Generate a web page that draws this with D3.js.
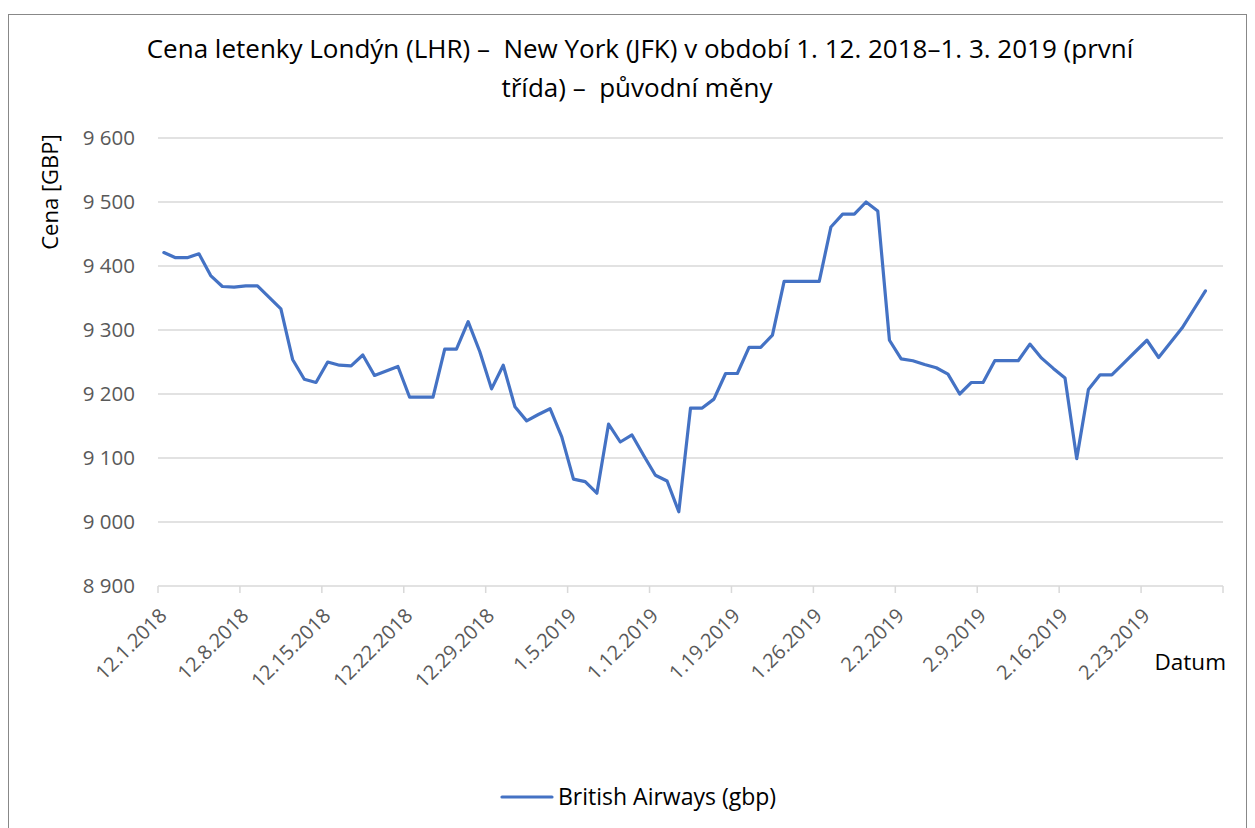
<!DOCTYPE html>
<html>
<head>
<meta charset="utf-8">
<script src="https://cdn.jsdelivr.net/npm/d3@7"></script>
<style>
  body { margin: 0; background: #fff; }
  text { font-family: "Open Sans", sans-serif; white-space: pre; }
</style>
</head>
<body>
<svg id="chart" width="1255" height="828"></svg>
<script>
// Daily prices, 1. 12. 2018 - 28. 2. 2019
let startDate = new Date(2018, 11, 1);
let prices = [9421, 9413, 9413, 9419, 9385, 9368, 9367, 9369, 9369, 9351,
	9333, 9254, 9223, 9218, 9250, 9245, 9244, 9261, 9229, 9236,
	9243, 9195, 9195, 9195, 9270, 9270, 9313, 9266, 9208, 9245,
	9180, 9158, 9168, 9177, 9133, 9067, 9063, 9045, 9153, 9125,
	9136, 9104, 9073, 9064, 9016, 9178, 9178, 9192, 9232, 9232,
	9273, 9273, 9292, 9376, 9376, 9376, 9376, 9461, 9481, 9481,
	9500, 9486, 9284, 9255, 9252, 9246, 9241, 9231, 9200, 9218,
	9218, 9252, 9252, 9252, 9278, 9256, 9240, 9225, 9099, 9207,
	9230, 9230, 9248, 9266, 9284, 9257, 9280, 9303, 9332, 9361];
let yTicks = [8900, 9000, 9100, 9200, 9300, 9400, 9500, 9600];
let xTickDates = d3.range(14).map(function (k) { return d3.timeDay.offset(startDate, k * 7); });

let svg = d3.select('#chart');

// chart border
svg.append('rect')
	.attr('x', 8.5).attr('y', 14.5)
	.attr('width', 1238).attr('height', 830)
	.attr('fill', 'none').attr('stroke', '#888').attr('stroke-width', 1);

let x = d3.scaleTime()
	.domain([startDate, d3.timeDay.offset(startDate, 91)])
	.range([158, 1223]);
let y = d3.scaleLinear()
	.domain([8900, 9600])
	.range([586, 138]);

let fmt = d3.format(',');
function czNum(v) { return fmt(v).replace(',', ' '); }

// gridlines
svg.append('g').selectAll('line')
	.data(yTicks)
	.enter().append('line')
	.attr('x1', 158).attr('x2', 1223)
	.attr('y1', function (d) { return y(d); })
	.attr('y2', function (d) { return y(d); })
	.attr('stroke', '#d9d9d9').attr('stroke-width', 1.5);

// y labels
svg.append('g').selectAll('text')
	.data(yTicks)
	.enter().append('text')
	.attr('x', 135)
	.attr('y', function (d) { return y(d) + 7; })
	.attr('text-anchor', 'end')
	.attr('font-size', 20.5)
	.attr('fill', '#595959')
	.text(function (d) { return czNum(d); });

// x axis ticks
let xAxis = svg.append('g');
xAxis.selectAll('line')
	.data(xTickDates)
	.enter().append('line')
	.attr('x1', function (d) { return x(d); })
	.attr('x2', function (d) { return x(d); })
	.attr('y1', 586).attr('y2', 593)
	.attr('stroke', '#d9d9d9').attr('stroke-width', 1.5);

xAxis.selectAll('text')
	.data(xTickDates.slice(0, 13))
	.enter().append('text')
	.attr('transform', function (d) { return 'translate(' + (x(d) + 10) + ',617) rotate(-45)'; })
	.attr('text-anchor', 'end')
	.attr('font-size', 20)
	.attr('fill', '#595959')
	.text(function (d) { return (d.getMonth() + 1) + '.' + d.getDate() + '.' + d.getFullYear(); });

// line
let line = d3.line()
	.x(function (d, i) { return x(d3.timeDay.offset(startDate, i)) + (x(d3.timeDay.offset(startDate, 1)) - x(startDate)) / 2; })
	.y(function (d) { return y(d); });

svg.append('path')
	.datum(prices)
	.attr('d', line)
	.attr('fill', 'none')
	.attr('stroke', '#4472c4')
	.attr('stroke-width', 3.2)
	.attr('stroke-linejoin', 'round')
	.attr('stroke-linecap', 'round');

// titles
svg.append('text')
	.attr('x', 640).attr('y', 58)
	.attr('text-anchor', 'middle')
	.attr('font-size', 26)
	.attr('fill', '#000')
	.text('Cena letenky Londýn (LHR) –  New York (JFK) v období 1. 12. 2018–1. 3. 2019 (první');
svg.append('text')
	.attr('x', 637).attr('y', 97)
	.attr('text-anchor', 'middle')
	.attr('font-size', 26)
	.attr('fill', '#000')
	.text('třída) –  původní měny');

svg.append('text')
	.attr('transform', 'translate(58,192) rotate(-90)')
	.attr('text-anchor', 'middle')
	.attr('font-size', 22)
	.attr('fill', '#000')
	.text('Cena [GBP]');

svg.append('text')
	.attr('x', 1226).attr('y', 670)
	.attr('text-anchor', 'end')
	.attr('font-size', 22.5)
	.attr('fill', '#000')
	.text('Datum');

// legend
svg.append('line')
	.attr('x1', 502).attr('x2', 552)
	.attr('y1', 797).attr('y2', 797)
	.attr('stroke', '#4472c4').attr('stroke-width', 3.2)
	.attr('stroke-linecap', 'round');
svg.append('text')
	.attr('x', 558).attr('y', 805)
	.attr('font-size', 23)
	.attr('fill', '#000')
	.text('British Airways (gbp)');
</script>
</body>
</html>
